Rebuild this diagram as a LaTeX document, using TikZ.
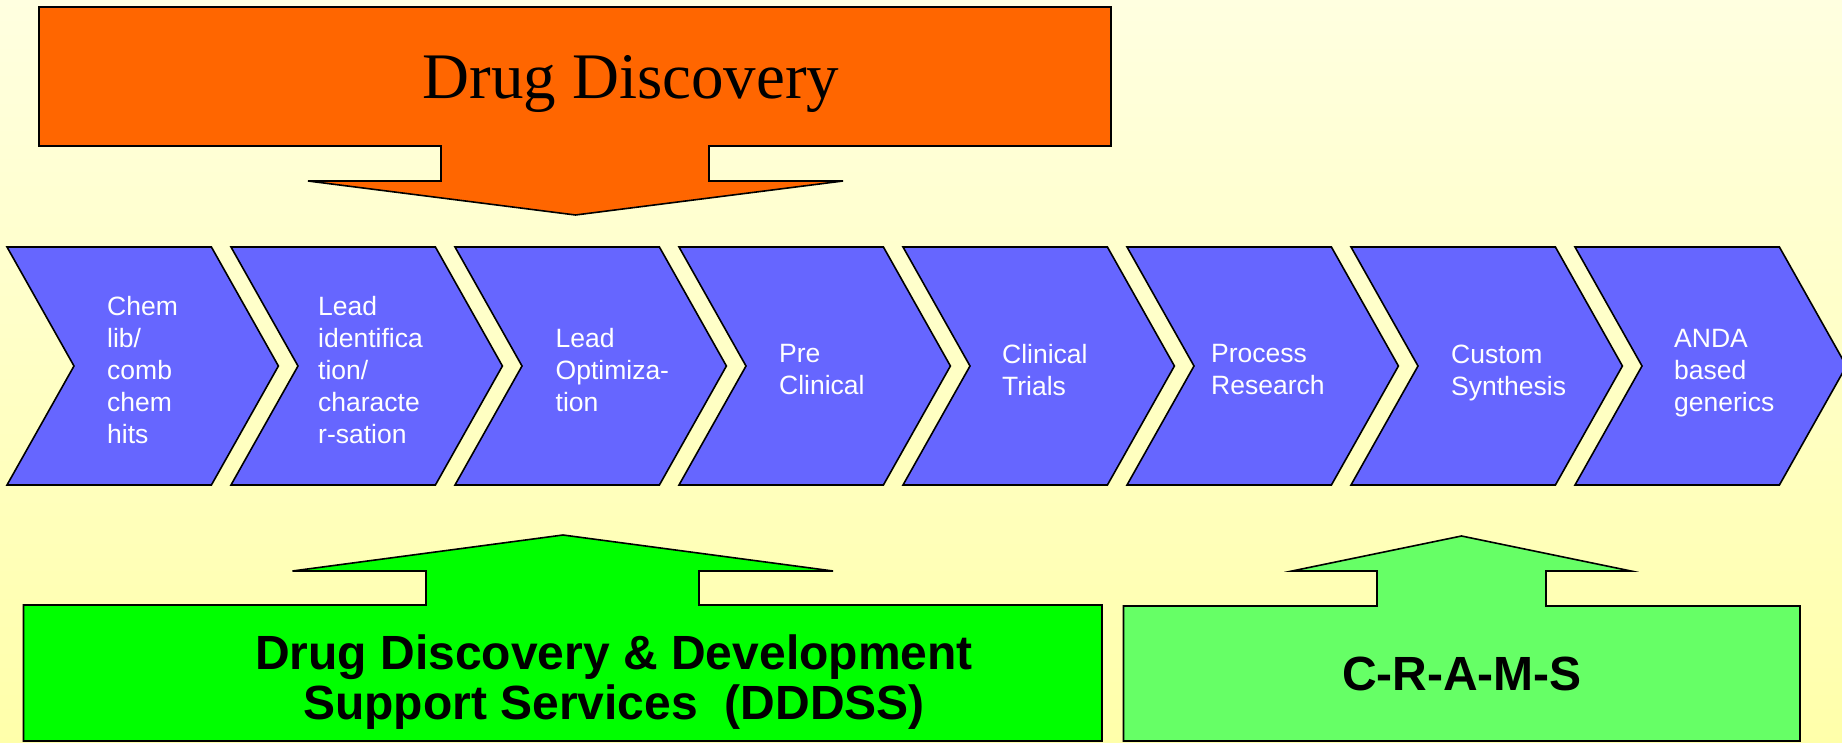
\documentclass[tikz,border=0pt]{standalone}
\usepackage{fontspec}
\newfontfamily\arialfont{Liberation Sans}
\newfontfamily\timesfont{Liberation Serif}
\definecolor{bgtop}{HTML}{FFFFE0}
\definecolor{bgbottom}{HTML}{FFFFAA}
\definecolor{discorange}{HTML}{FF6600}
\definecolor{chevblue}{HTML}{6666FF}
\definecolor{dddssgreen}{HTML}{00FF00}
\definecolor{cramsgreen}{HTML}{66FF66}
\begin{document}
\begin{tikzpicture}[x=1pt,y=-1pt,
  outline/.style={draw=black, line width=1.6pt, line join=miter},
  chevron/.style={outline, fill=chevblue},
  chevtext/.style={text=white, anchor=west, align=left, inner sep=0pt,
    font=\arialfont\fontsize{26.5}{32}\selectfont},
  bigsans/.style={text=black, inner sep=0pt,
    font=\arialfont\bfseries\fontsize{48}{50}\selectfont}]
% page and background
\useasboundingbox (0,0) rectangle (1842,743);
\shade[top color=bgtop, bottom color=bgbottom] (0,0) rectangle (1842,743);
\clip (0,0) rectangle (1842,743);

% downward callout: Drug Discovery
\path[outline, fill=discorange]
  (39,7) -- (1111,7) -- (1111,146) -- (709,146) -- (709,181) -- (843,181)
  -- (575.5,215) -- (308,181) -- (441,181) -- (441,146) -- (39,146) -- cycle;
\node[font=\timesfont\fontsize{65}{70}\selectfont, anchor=base, inner sep=0pt]
  (discovery) at (631,98.7) {Drug Discovery};

% process chevrons
\foreach \i in {0,...,7}{
  \pgfmathsetmacro{\L}{7+224*\i}
  \path[chevron] (\L,247) -- ({\L+204.4},247) -- ({\L+271.4},366)
    -- ({\L+204.4},485) -- (\L,485) -- ({\L+67},366) -- cycle;
}
\node[chevtext] (chem)     at (107,370)  {Chem\\lib/\\comb\\chem\\hits};
\node[chevtext] (leadid)   at (318,370)  {Lead\\identifica\\tion/\\characte\\r-sation};
\node[chevtext] (leadopt)  at (555.5,370) {Lead\\Optimiza-\\tion};
\node[chevtext] (preclin)  at (779,370)  {Pre\\Clinical};
\node[chevtext] (clinical) at (1002,370) {Clinical\\Trials};
\node[chevtext] (process)  at (1211,370) {Process\\Research};
\node[chevtext] (custom)   at (1451,373) {Custom\\Synthesis};
\node[chevtext] (anda)     at (1674,373) {ANDA\\based\\generics};

% upward callout: DDDSS
\path[outline, fill=dddssgreen]
  (23.5,741) -- (23.5,605) -- (426,605) -- (426,571) -- (292.5,571)
  -- (563,535) -- (833,571) -- (699,571) -- (699,605) -- (1102,605)
  -- (1102,741) -- cycle;
\node[bigsans, align=center] (dddss) at (614,682)
  {Drug Discovery \& Development\\Support Services\ \ (DDDSS)};

% upward callout: C-R-A-M-S
\path[outline, fill=cramsgreen]
  (1123.5,741) -- (1123.5,606) -- (1377,606) -- (1377,571) -- (1292,571)
  -- (1461.5,536) -- (1631,571) -- (1546,571) -- (1546,606) -- (1800,606)
  -- (1800,741) -- cycle;
\node[bigsans, anchor=base] (crams) at (1462,690.7) {C-R-A-M-S};
\end{tikzpicture}
\end{document}
